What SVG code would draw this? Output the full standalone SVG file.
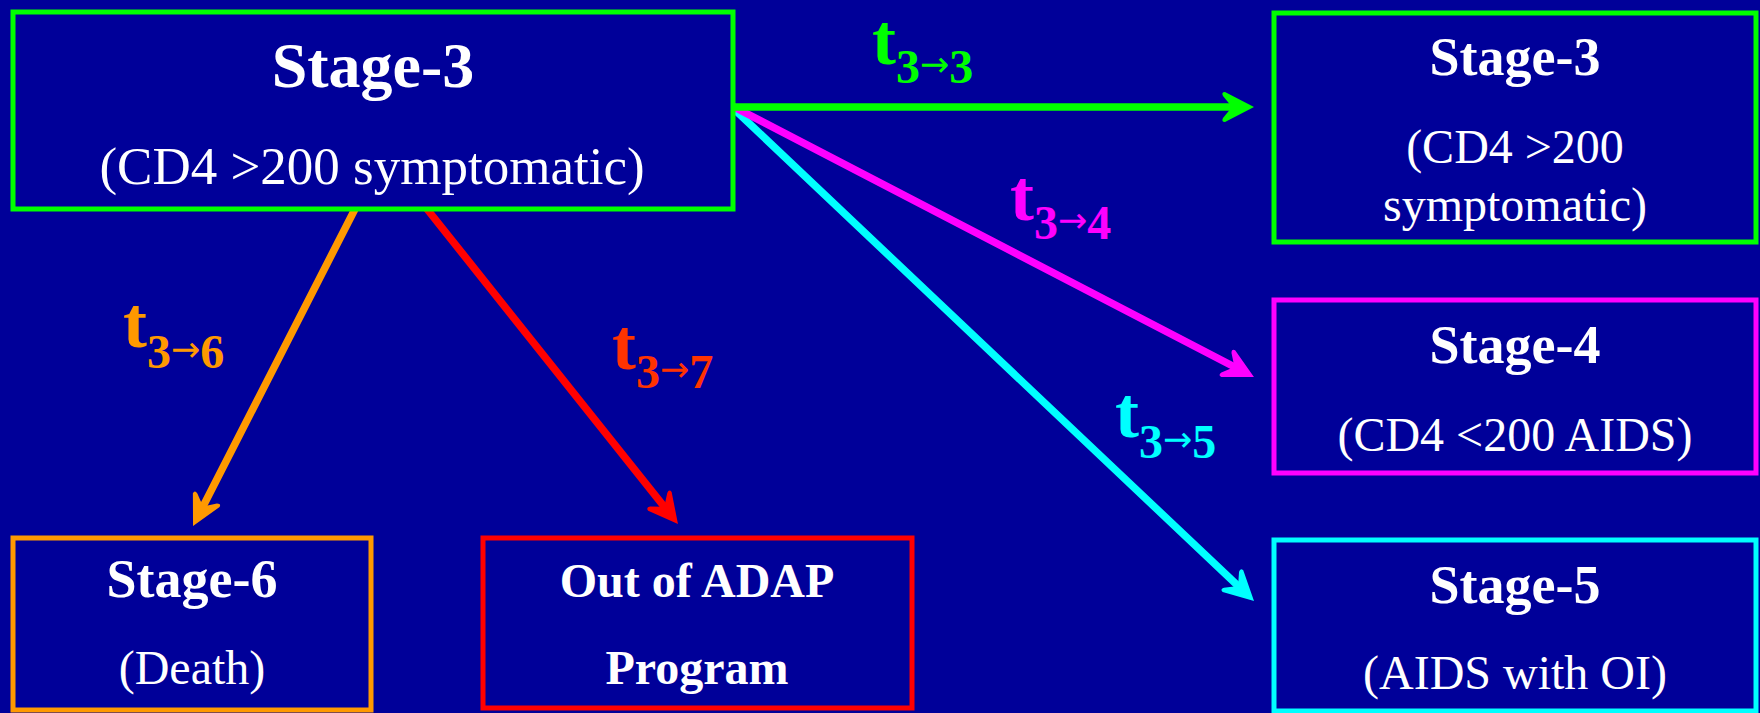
<svg xmlns="http://www.w3.org/2000/svg" width="1760" height="713" viewBox="0 0 1760 713">
<defs>
<style>
.box{fill:#000099;stroke-width:5}
.t{font-family:"Liberation Serif","Times New Roman",serif;fill:#fff;text-anchor:middle}
.b{font-weight:bold}
.lbl{font-family:"Liberation Serif","Times New Roman",serif;font-weight:bold;font-size:72px}
.sub{font-size:48px}
.arr{font-family:"DejaVu Sans",sans-serif;font-size:35px;font-weight:normal}
.cn{fill:none;stroke-width:7.5;stroke-linecap:round}
</style>
<marker id="mg" viewBox="-36 -18 38 36" refX="-12" refY="0" markerWidth="38" markerHeight="36" markerUnits="userSpaceOnUse" orient="auto"><path d="M0,0 L-29,-15 Q-33,-15 -31,-11 L-22,0 L-31,11 Q-33,15 -29,15 Z" fill="#00ff00"/></marker>
<marker id="mm" viewBox="-36 -18 38 36" refX="-12" refY="0" markerWidth="38" markerHeight="36" markerUnits="userSpaceOnUse" orient="auto"><path d="M0,0 L-29,-15 Q-33,-15 -31,-11 L-22,0 L-31,11 Q-33,15 -29,15 Z" fill="#ff00ff"/></marker>
<marker id="mc" viewBox="-36 -18 38 36" refX="-12" refY="0" markerWidth="38" markerHeight="36" markerUnits="userSpaceOnUse" orient="auto"><path d="M0,0 L-29,-15 Q-33,-15 -31,-11 L-22,0 L-31,11 Q-33,15 -29,15 Z" fill="#00ffff"/></marker>
<marker id="mo" viewBox="-36 -18 38 36" refX="-12" refY="0" markerWidth="38" markerHeight="36" markerUnits="userSpaceOnUse" orient="auto"><path d="M0,0 L-29,-15 Q-33,-15 -31,-11 L-22,0 L-31,11 Q-33,15 -29,15 Z" fill="#ff9900"/></marker>
<marker id="mr" viewBox="-36 -18 38 36" refX="-12" refY="0" markerWidth="38" markerHeight="36" markerUnits="userSpaceOnUse" orient="auto"><path d="M0,0 L-29,-15 Q-33,-15 -31,-11 L-22,0 L-31,11 Q-33,15 -29,15 Z" fill="#ff0000"/></marker>
</defs>
<rect x="0" y="0" width="1760" height="713" fill="#000099"/>

<g id="connectors">
<line class="cn" x1="355" y1="209" x2="198.5" y2="515.3" stroke="#ff9900" marker-end="url(#mo)"/>
<line class="cn" x1="427" y1="209" x2="670.5" y2="514.6" stroke="#ff0000" marker-end="url(#mr)"/>
<line class="cn" x1="734" y1="109" x2="1245.3" y2="592.8" stroke="#00ffff" marker-end="url(#mc)"/>
<line class="cn" x1="734" y1="107" x2="1243.3" y2="371.5" stroke="#ff00ff" marker-end="url(#mm)"/>
<line class="cn" x1="732" y1="107" x2="1242" y2="107" stroke="#00ff00" marker-end="url(#mg)"/>
<text class="lbl" x="872" y="64" fill="#00ff00">t<tspan class="sub" dy="19">3</tspan><tspan class="arr" dy="-7">→</tspan><tspan class="sub" dy="7">3</tspan></text>
<text class="lbl" x="1010" y="220" fill="#ff00ff">t<tspan class="sub" dy="19">3</tspan><tspan class="arr" dy="-7">→</tspan><tspan class="sub" dy="7">4</tspan></text>
<text class="lbl" x="1115" y="437" fill="#00ffff">t<tspan class="sub" dy="21">3</tspan><tspan class="arr" dy="-7">→</tspan><tspan class="sub" dy="7">5</tspan></text>
<text class="lbl" x="123" y="347" fill="#ff9900">t<tspan class="sub" dy="21">3</tspan><tspan class="arr" dy="-7">→</tspan><tspan class="sub" dy="7">6</tspan></text>
<text class="lbl" x="612" y="369" fill="#ff3300">t<tspan class="sub" dy="19">3</tspan><tspan class="arr" dy="-7">→</tspan><tspan class="sub" dy="7">7</tspan></text>
</g>

<g id="stage3-src">
<rect class="box" x="13" y="12" width="720" height="197" stroke="#00ff00"/>
<text class="t b" x="373" y="87" font-size="64">Stage-3</text>
<text class="t" x="372" y="184" font-size="53">(CD4 &gt;200 symptomatic)</text>
</g>

<g id="stage3">
<rect class="box" x="1274" y="13" width="482" height="229" stroke="#00ff00"/>
<text class="t b" x="1515" y="75" font-size="54">Stage-3</text>
<text class="t" x="1515" y="163" font-size="48">(CD4 &gt;200</text>
<text class="t" x="1515" y="221" font-size="48">symptomatic)</text>
</g>

<g id="stage4">
<rect class="box" x="1274" y="300" width="482" height="173" stroke="#ff00ff"/>
<text class="t b" x="1515" y="363" font-size="54">Stage-4</text>
<text class="t" x="1515" y="451" font-size="48">(CD4 &lt;200 AIDS)</text>
</g>

<g id="stage5">
<rect class="box" x="1274" y="540" width="482" height="171" stroke="#00ffff"/>
<text class="t b" x="1515" y="603" font-size="54">Stage-5</text>
<text class="t" x="1515" y="689" font-size="48">(AIDS with OI)</text>
</g>

<g id="stage6">
<rect class="box" x="13" y="538" width="358" height="172" stroke="#ff9900"/>
<text class="t b" x="192" y="597" font-size="54">Stage-6</text>
<text class="t" x="192" y="684" font-size="48">(Death)</text>
</g>

<g id="out-adap">
<rect class="box" x="483" y="538" width="429" height="170" stroke="#ff0000"/>
<text class="t b" x="697" y="597" font-size="48">Out of ADAP</text>
<text class="t b" x="697" y="684" font-size="48">Program</text>
</g>
</svg>
